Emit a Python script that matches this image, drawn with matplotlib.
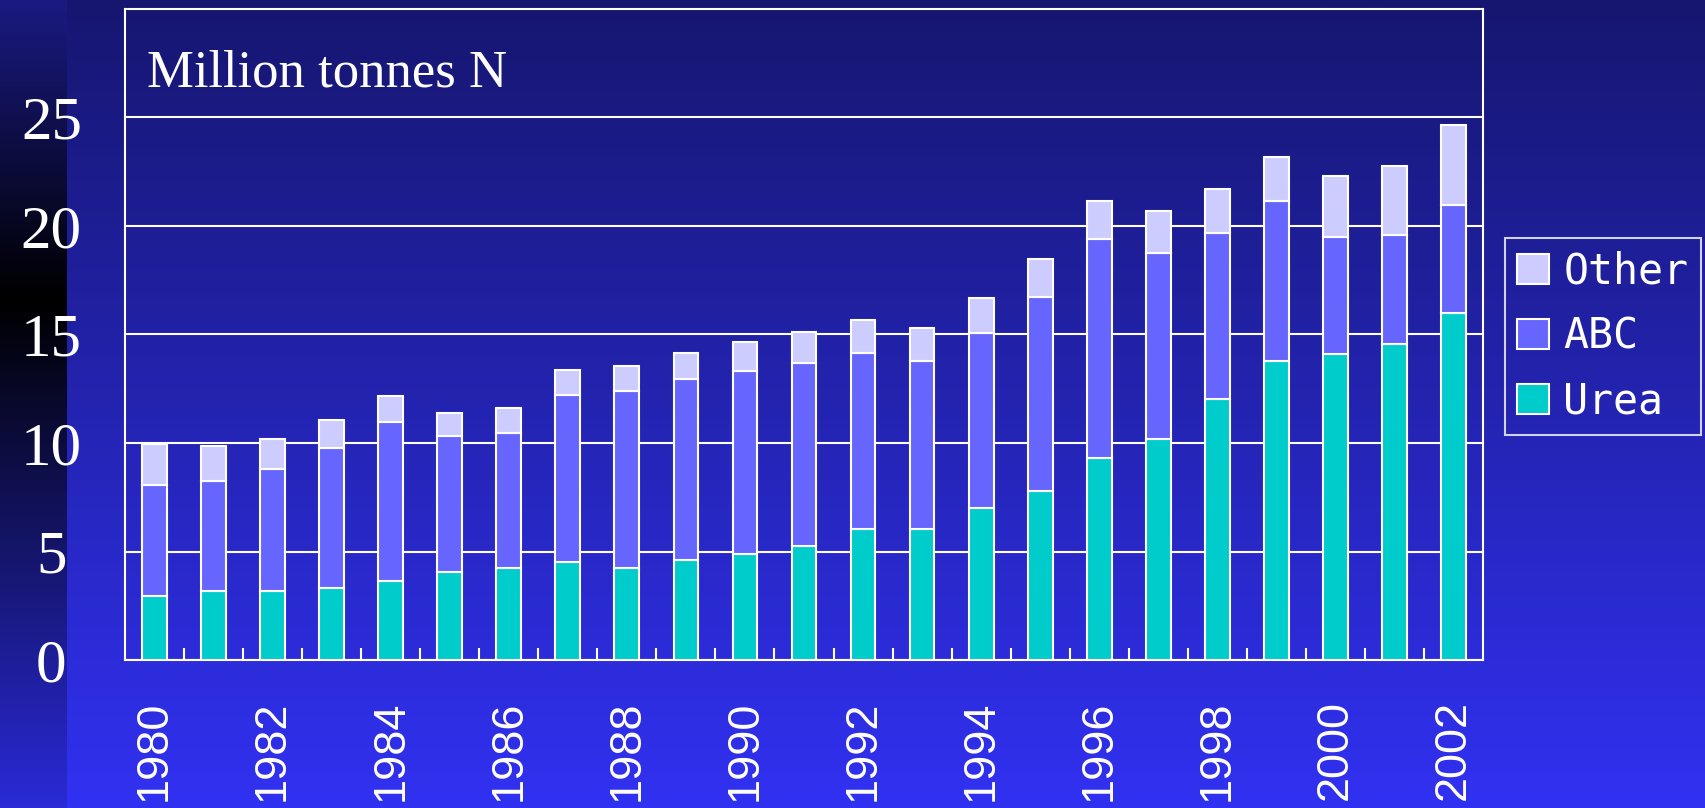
import numpy as np
import matplotlib
matplotlib.use("Agg")
import matplotlib.pyplot as plt

years = list(range(1980, 2003))
urea = [2.95, 3.2, 3.2, 3.3, 3.65, 4.05, 4.25, 4.5, 4.25, 4.6, 4.9, 5.25, 6.05, 6.05,
        7.0, 7.8, 9.3, 10.2, 12.05, 13.8, 14.1, 14.55, 16.0]
abc_top = [8.05, 8.25, 8.8, 9.75, 10.95, 10.3, 10.45, 12.2, 12.4, 12.95, 13.3, 13.7, 14.15, 13.8,
           15.05, 16.75, 19.4, 18.75, 19.7, 21.15, 19.5, 19.6, 20.95]
total = [9.95, 9.85, 10.2, 11.05, 12.15, 11.4, 11.6, 13.35, 13.55, 14.15, 14.65, 15.1, 15.65, 15.3,
         16.7, 18.5, 21.15, 20.7, 21.7, 23.2, 22.3, 22.75, 24.65]
yticks = [0, 5, 10, 15, 20, 25]
series_names = ["Urea", "ABC", "Other"]
colors = ["#00CCCC", "#6666FF", "#CCCCFF"]

urea = np.array(urea)
abc = np.array(abc_top) - urea
other = np.array(total) - np.array(abc_top)

W, H = 1706, 808
fig = plt.figure(figsize=(W / 100, H / 100), dpi=100)

# background gradient
bg = fig.add_axes([0, 0, 1, 1], zorder=-10)
bg.set_axis_off()
t = np.linspace(0, 1, 400)[:, None]
top = np.array([22, 22, 112]) / 255
bot = np.array([49, 49, 242]) / 255
img = (top + (bot - top) * t).reshape(400, 1, 3)
strip = np.zeros((400, 1, 3))
for i, tv in enumerate(t[:, 0]):
    if tv < 0.37:
        f = tv / 0.37
        c = (np.array([26, 26, 130]) / 255) * (1 - f)
    else:
        f = (tv - 0.37) / 0.63
        c = (np.array([42, 42, 215]) / 255) * f
    strip[i, 0] = c
bg.imshow(img, aspect='auto', extent=[67, W, H, 0])
bg.imshow(strip, aspect='auto', extent=[0, 67, H, 0])
bg.set_xlim(0, W)
bg.set_ylim(H, 0)

ax = fig.add_axes([125 / W, 148 / H, (1483 - 125) / W, (799 - 148) / H])
ax.patch.set_alpha(0)
x = np.arange(len(years))
w = 0.42
ax.bar(x, urea, w, color=colors[0], edgecolor='white', linewidth=1.5, label=series_names[0], zorder=3)
ax.bar(x, abc, w, bottom=urea, color=colors[1], edgecolor='white', linewidth=1.5, label=series_names[1], zorder=3)
ax.bar(x, other, w, bottom=urea + abc, color=colors[2], edgecolor='white', linewidth=1.5, label=series_names[2], zorder=3)

ax.set_xlim(-0.5, len(years) - 0.5)
ax.set_ylim(0, 30)
ax.set_yticks(yticks)
ax.set_yticklabels([str(v) for v in yticks], fontfamily='Liberation Serif', fontsize=44,
                   color='white', ha='center')
ax.tick_params(axis='y', length=0, pad=53)
ax.yaxis.grid(True, color='white', linewidth=1.5)
ax.set_axisbelow(True)

ax.set_xticks(x[::2])
ax.set_xticklabels([str(y) for y in years[::2]], rotation=90, fontfamily='Liberation Sans',
                   fontsize=32.5, color='white')
ax.tick_params(axis='x', which='major', length=0, pad=29)
ax.set_xticks(np.arange(0.5, len(years) - 1, 1), minor=True)
ax.tick_params(axis='x', which='minor', direction='in', length=9, width=1.5, color='white')

for s in ax.spines.values():
    s.set_color('white')
    s.set_linewidth(1.5)

ax.text(-0.5 + 0.016 * len(years), 27.05, "Million tonnes N", fontfamily='Liberation Serif',
        fontsize=38, color='white', va='center', ha='left')

handles, labels = ax.get_legend_handles_labels()
leg = fig.legend(handles[::-1], labels[::-1], loc='upper left',
                 bbox_to_anchor=(1505 / W, 1 - 238 / H), frameon=True,
                 prop={'family': 'DejaVu Sans Mono', 'size': 30},
                 handlelength=0.75, handleheight=0.75, handletextpad=0.35,
                 labelspacing=0.55, borderpad=0.3, borderaxespad=0, fancybox=False)
leg.get_frame().set_facecolor('none')
leg.get_frame().set_edgecolor('white')
leg.get_frame().set_linewidth(1.5)
for txt in leg.get_texts():
    txt.set_color('white')

fig.savefig("out.png", dpi=100)
